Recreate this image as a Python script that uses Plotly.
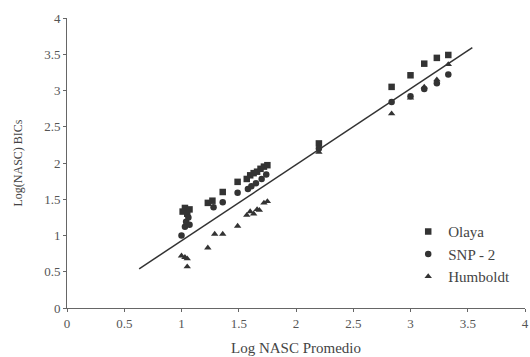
import plotly.graph_objects as go

# Data
olaya_x = [1.01, 1.03, 1.05, 1.07, 1.23, 1.27, 1.36, 1.49, 1.57, 1.60, 1.63, 1.66, 1.69, 1.72, 1.75, 2.20, 2.835, 3.00, 3.12, 3.23, 3.33]
olaya_y = [1.33, 1.38, 1.30, 1.36, 1.45, 1.48, 1.60, 1.74, 1.78, 1.83, 1.86, 1.88, 1.92, 1.95, 1.97, 2.27, 3.05, 3.21, 3.37, 3.45, 3.49]

snp_x = [1.00, 1.03, 1.04, 1.06, 1.07, 1.28, 1.36, 1.49, 1.58, 1.61, 1.65, 1.70, 1.74, 2.20, 2.835, 3.00, 3.12, 3.23, 3.33]
snp_y = [1.00, 1.12, 1.19, 1.25, 1.15, 1.39, 1.46, 1.59, 1.64, 1.68, 1.72, 1.78, 1.84, 2.20, 2.84, 2.92, 3.02, 3.10, 3.22]

humboldt_x = [1.00, 1.03, 1.05, 1.05, 1.23, 1.29, 1.36, 1.49, 1.57, 1.60, 1.63, 1.66, 1.68, 1.72, 1.75, 2.20, 2.835, 3.00, 3.12, 3.23, 3.33]
humboldt_y = [0.72, 0.70, 0.68, 0.57, 0.83, 1.02, 1.02, 1.13, 1.28, 1.33, 1.30, 1.36, 1.35, 1.45, 1.47, 2.15, 2.68, 2.90, 3.05, 3.15, 3.36]

fit_x = [0.63, 3.54]
fit_y = [0.54, 3.59]

x_ticks = [0, 0.5, 1, 1.5, 2, 2.5, 3, 3.5, 4]
y_ticks = [0, 0.5, 1, 1.5, 2, 2.5, 3, 3.5, 4]

ink = "#333333"
font_family = "Liberation Serif"

fig = go.Figure()
fig.add_trace(go.Scatter(x=fit_x, y=fit_y, mode="lines",
                         line=dict(color=ink, width=1.5), showlegend=False, hoverinfo="skip"))
fig.add_trace(go.Scatter(x=olaya_x, y=olaya_y, mode="markers", name="Olaya",
                         marker=dict(symbol="square", size=6.5, color=ink)))
fig.add_trace(go.Scatter(x=snp_x, y=snp_y, mode="markers", name="SNP - 2",
                         marker=dict(symbol="circle", size=6.5, color=ink)))
fig.add_trace(go.Scatter(x=humboldt_x, y=humboldt_y, mode="markers", name="Humboldt",
                         marker=dict(symbol="triangle-up", size=6.5, color=ink)))

fig.update_layout(
    width=530, height=357,
    margin=dict(l=67, r=1, t=18, b=49),
    paper_bgcolor="white", plot_bgcolor="white",
    font=dict(family=font_family, color="#555555", size=13),
    showlegend=True,
    legend=dict(x=0.745, y=0.32, xanchor="left", yanchor="top",
                font=dict(size=15, color="#444444", family=font_family),
                itemwidth=30, bgcolor="rgba(0,0,0,0)", tracegroupgap=0),
    xaxis=dict(range=[0, 4], tickvals=x_ticks, ticktext=[f"{v:g}" for v in x_ticks],
               showgrid=False, zeroline=False, showline=True, linecolor="#666666", linewidth=1,
               ticks="outside", ticklen=3, tickcolor="#666666", ticklabeloverflow="allow",
               title=dict(text="Log NASC Promedio", font=dict(size=15, color="#444444"), standoff=12)),
    yaxis=dict(range=[0, 4], tickvals=y_ticks, ticktext=[f"{v:g}" for v in y_ticks],
               showgrid=False, zeroline=False, showline=True, linecolor="#666666", linewidth=1,
               ticks="outside", ticklen=3, tickcolor="#666666",
               title=dict(text="Log(NASC) BICs", font=dict(size=12, color="#444444"), standoff=18)),
)

fig.write_html(
    "out.html",
    config={"displayModeBar": False},
    post_script="document.body.style.margin='0';document.body.style.overflow='hidden';",
)
